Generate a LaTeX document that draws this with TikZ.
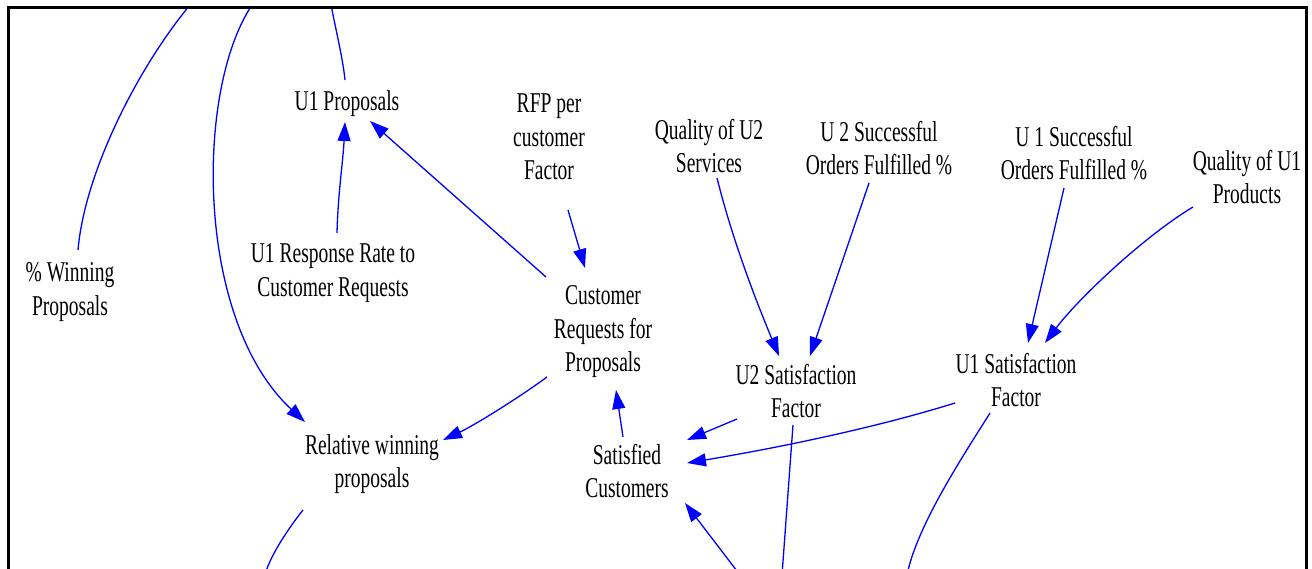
\documentclass[tikz,border=0pt]{standalone}
\usepackage{fontspec}
\setmainfont[FakeStretch=0.68]{Liberation Serif}
\usetikzlibrary{arrows.meta,calc}
\begin{document}
\begin{tikzpicture}[x=1pt,y=-1pt,
  lbl/.style={align=center,inner sep=0pt,font=\fontsize{28.7}{33.5}\selectfont},
  link/.style={draw=blue,line width=1.3pt},
  arr/.style={link,-{Triangle[length=19pt,width=13pt]}}]
\useasboundingbox (0,0) rectangle (1312,569);
\fill[white] (0,0) rectangle (1312,569);
% nodes
\node[lbl] (u1p) at (347,104) {U1 Proposals};
\node[lbl] (rfp) at (549,137) {RFP per\\customer\\Factor};
\node[lbl] (q2) at (709,146) {Quality of U2\\Services};
\node[lbl] (s2) at (879,148) {U 2 Successful\\Orders Fulfilled \%};
\node[lbl] (s1) at (1074,153) {U 1 Successful\\Orders Fulfilled \%};
\node[lbl] (q1) at (1247,177) {Quality of U1\\Products};
\node[lbl] (win) at (70,292) {\% Winning\\Proposals};
\node[lbl] (rr) at (333,273) {U1 Response Rate to\\Customer Requests};
\node[lbl] (crp) at (603,332) {Customer\\Requests for\\Proposals};
\node[lbl] (u2sf) at (796,391) {U2 Satisfaction\\Factor};
\node[lbl] (u1sf) at (1016,380) {U1 Satisfaction\\Factor};
\node[lbl] (rwp) at (372,464) {Relative winning\\proposals};
\node[lbl] (sc) at (627,471) {Satisfied\\Customers};
% free ends outside the frame
\coordinate (ta) at (190,5);
\coordinate (tb) at (252,5);
\coordinate (tc) at (331,5);
\coordinate (bo) at (740,575);
\coordinate (bp) at (782,575);
\coordinate (bq) at (907,575);
\coordinate (br) at (265,575);
\begin{scope}
\clip (8,8) rectangle (1306,569);
\draw[link] (ta) .. controls (140,65) and (85,170) .. ($(win)+(8,-42)$);
\draw[arr] (tb) .. controls (195,90) and (195,320) .. ($(rwp)+(-67,-42)$);
\draw[link] (tc) .. controls (337,35) and (343,60) .. ($(u1p)+(-2,-24)$);
\draw[arr] ($(rr)+(4,-40)$) .. controls +(1,-40) and +(-2,40) .. ($(u1p)+(-2,18)$);
\draw[arr] ($(crp)+(-57,-55)$) -- ($(u1p)+(23,17)$);
\draw[arr] ($(rfp)+(19,73)$) -- ($(crp)+(-18,-64)$);
\draw[arr] ($(q2)+(8,32)$) .. controls +(15,60) and +(-25,-60) .. ($(u2sf)+(-17,-35)$);
\draw[arr] ($(s2)+(-10,35)$) -- ($(u2sf)+(14,-35)$);
\draw[arr] ($(s1)+(-10,35)$) -- ($(u1sf)+(12,-37)$);
\draw[arr] ($(q1)+(-54,30)$) .. controls +(-50,30) and +(32,-43) .. ($(u1sf)+(29,-37)$);
\draw[arr] ($(crp)+(-56,45)$) .. controls +(-30,22) and +(30,-14) .. ($(rwp)+(71,-24)$);
\draw[arr] ($(sc)+(-4,-34)$) -- ($(crp)+(13,58)$);
\draw[arr] ($(u2sf)+(-59,28)$) -- ($(sc)+(60,-31)$);
\draw[arr] ($(u1sf)+(-61,23)$) .. controls +(-80,25) and +(90,-15) .. ($(sc)+(60,-8)$);
\draw[arr] (bo) -- ($(sc)+(58,32)$);
\draw[link] ($(u2sf)+(-3,34)$) -- (bp);
\draw[link] ($(u1sf)+(-26,33)$) .. controls +(-25,40) and +(10,-50) .. (bq);
\draw[link] ($(rwp)+(-69,46)$) .. controls +(-12,15) and +(5,-20) .. (br);
\end{scope}
\draw[line width=3pt] (8.5,569) -- (8.5,7.5) -- (1306.5,7.5) -- (1306.5,569);
\end{tikzpicture}
\end{document}
